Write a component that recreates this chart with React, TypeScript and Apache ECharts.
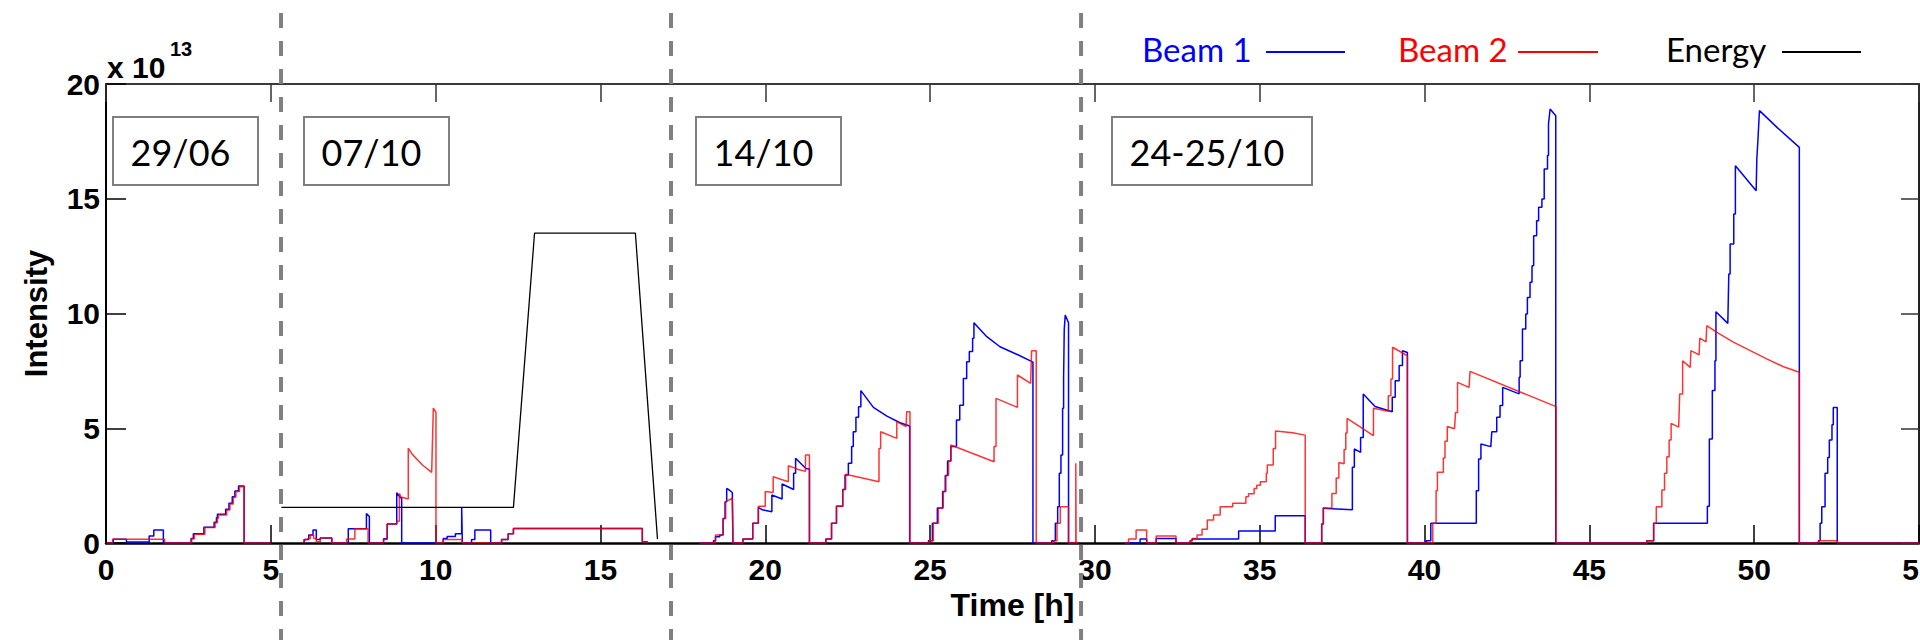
import React, { useEffect, useRef } from "react";
import * as echarts from "echarts";

// ---------- DATA (hours, intensity in units of 1e13) ----------
const xAxisRange = [0, 55, 5]; // min, max, step (hours)
const yAxisRange = [0, 20, 5]; // min, max, step (x 1e13)

const sessionLabels = ["29/06", "07/10", "14/10", "24-25/10"];
const sessionSeparators = [5.31, 17.14, 29.58]; // hours, dashed separators

// Beam 1 (blue)
const beam1Jun29 = [
  [0.02, 0], [0.22, 0], [0.22, 0.16], [0.62, 0.16], [0.62, 0.04], [1.31, 0.04], [1.31, 0.3], [1.45, 0.3],
  [1.45, 0.57], [1.74, 0.57], [1.74, 0], [2.58, 0], [2.58, 0.2], [2.65, 0.2], [2.65, 0.4], [2.97, 0.4],
  [2.97, 0.69], [3.28, 0.69], [3.28, 0.9], [3.35, 0.9], [3.35, 1.1], [3.38, 1.1], [3.38, 1.25], [3.63, 1.25],
  [3.63, 1.47], [3.73, 1.47], [3.73, 1.73], [3.83, 1.73], [3.83, 2.02], [3.91, 2.02], [3.91, 2.27], [4.02, 2.27],
  [4.02, 2.48], [4.19, 2.48], [4.19, 0], [5.0, 0],
];
const beam1Oct07 = [
  [6.0, 0], [6.03, 0.15], [6.15, 0.15], [6.15, 0.35], [6.28, 0.35], [6.28, 0.57], [6.38, 0.57], [6.38, 0.15],
  [6.5, 0.15], [6.5, 0.22], [6.85, 0.22], [6.85, 0], [7.35, 0], [7.35, 0.62], [7.9, 0.62], [7.9, 1.29],
  [7.99, 1.15], [7.99, 0], [8.42, 0], [8.42, 0.18], [8.53, 0.18], [8.53, 0.83], [8.82, 0.83], [8.82, 2.19],
  [8.93, 1.97], [8.97, 1.97], [8.97, 0], [10.23, 0], [10.23, 0.2], [10.35, 0.2], [10.35, 0.28], [10.6, 0.28],
  [10.6, 0.4], [10.79, 0.4], [10.79, 1.55], [10.81, 1.55], [10.81, 0], [11.09, 0], [11.09, 0.15], [11.19, 0.15],
  [11.19, 0.57], [11.67, 0.57], [11.67, 0], [12.0, 0], [12.0, 0.15], [12.2, 0.15], [12.2, 0.4], [12.36, 0.4],
  [12.36, 0.63], [16.27, 0.63], [16.27, 0.05], [16.42, 0.05], [16.42, 0],
];
const beam1Oct14 = [
  [18.0, 0], [18.43, 0], [18.43, 0.1], [18.49, 0.1], [18.49, 0.27], [18.62, 0.27], [18.62, 0.35], [18.72, 0.35],
  [18.72, 1.07], [18.78, 1.07], [18.78, 1.8], [18.83, 1.8], [18.83, 2.38], [18.87, 2.35], [19.0, 2.2], [19.02, 2.2],
  [19.02, 0], [19.32, 0], [19.32, 0.17], [19.62, 0.17], [19.62, 0.86], [19.79, 0.86], [19.79, 1.55], [19.9, 1.45],
  [20.2, 1.36], [20.2, 2.09], [20.51, 1.92], [20.51, 2.57], [20.86, 2.33], [20.86, 3.04], [20.92, 3.04], [20.92, 3.69],
  [21.23, 3.25], [21.34, 3.22], [21.34, 0], [21.84, 0], [21.84, 0.17], [22.01, 0.17], [22.01, 0.86], [22.16, 0.86],
  [22.16, 1.6], [22.35, 1.6], [22.35, 2.33], [22.42, 2.33], [22.42, 2.96], [22.52, 2.96], [22.52, 3.47], [22.62, 3.47],
  [22.62, 4.2], [22.67, 4.2], [22.67, 4.85], [22.75, 4.85], [22.75, 5.48], [22.83, 5.48], [22.83, 5.94], [22.9, 5.94],
  [22.9, 6.64], [23.28, 5.91], [23.69, 5.53], [24.09, 5.24], [24.38, 5.1], [24.38, 0], [24.95, 0], [24.95, 0.1],
  [25.07, 0.1], [25.07, 0.86], [25.22, 0.86], [25.22, 1.53], [25.38, 1.53], [25.38, 2.24], [25.46, 2.24], [25.46, 2.94],
  [25.53, 2.94], [25.53, 3.57], [25.63, 3.57], [25.63, 4.2], [25.8, 4.2], [25.8, 5.36], [25.9, 5.36], [25.9, 6.0],
  [26.01, 6.0], [26.01, 7.17], [26.11, 7.17], [26.11, 7.9], [26.19, 7.9], [26.19, 8.34], [26.29, 8.34], [26.29, 8.92],
  [26.33, 8.92], [26.33, 9.6], [26.72, 8.99], [27.12, 8.55], [27.68, 8.19], [28.12, 7.88], [28.12, 0], [28.69, 0],
  [28.69, 0.1], [28.8, 0.1], [28.8, 0.86], [28.87, 0.86], [28.87, 1.58], [28.92, 1.58], [28.92, 3.04], [28.97, 3.04],
  [28.97, 3.83], [29.02, 3.83], [29.02, 5.87], [29.05, 5.87], [29.05, 7.17], [29.07, 7.17], [29.07, 9.31], [29.1, 9.93],
  [29.2, 9.6], [29.2, 0], [29.5, 0],
];
const beam1Oct24 = [
  [30.9, 0], [31.37, 0], [31.37, 0.17], [31.57, 0.17], [31.57, 0], [31.86, 0], [31.86, 0.2], [32.46, 0.2],
  [32.46, 0], [32.89, 0], [32.89, 0.1], [32.95, 0.1], [32.95, 0.17], [34.36, 0.17], [34.36, 0.52], [35.47, 0.52],
  [35.47, 1.19], [36.38, 1.19], [36.38, 0], [36.88, 0], [36.88, 0.83], [36.93, 0.83], [36.93, 1.52], [37.05, 1.5],
  [37.81, 1.45], [37.81, 3.3], [37.87, 3.3], [37.87, 4.1], [38.06, 3.95], [38.06, 4.6], [38.14, 4.6], [38.14, 6.49],
  [38.5, 5.95], [39.02, 5.72], [39.02, 6.35], [39.11, 6.35], [39.11, 7.07], [39.23, 7.07], [39.23, 7.73], [39.33, 7.73],
  [39.33, 8.38], [39.48, 8.3], [39.48, 0], [40.05, 0], [40.05, 0.1], [40.19, 0.1], [40.19, 0.86], [41.57, 0.86],
  [41.57, 2.28], [41.64, 2.28], [41.64, 3.66], [41.71, 3.66], [41.71, 4.31], [42.01, 4.2], [42.04, 4.85], [42.19, 4.85],
  [42.19, 5.48], [42.29, 5.48], [42.29, 5.99], [42.37, 5.99], [42.37, 6.78], [42.87, 6.5], [42.87, 7.22], [42.9, 7.22],
  [42.9, 7.94], [42.97, 7.94], [42.97, 9.32], [43.07, 9.32], [43.07, 9.98], [43.12, 9.98], [43.12, 10.7], [43.2, 10.7],
  [43.2, 11.36], [43.26, 11.36], [43.26, 12.08], [43.31, 12.08], [43.31, 13.39], [43.4, 13.39], [43.4, 14.04], [43.46, 14.04],
  [43.46, 14.63], [43.56, 14.63], [43.56, 14.99], [43.63, 14.99], [43.63, 16.3], [43.73, 16.3], [43.73, 16.88], [43.76, 16.88],
  [43.76, 18.26], [43.81, 18.91], [43.98, 18.62], [43.98, 0], [46.74, 0], [46.74, 0.1], [46.95, 0.1], [46.95, 0.86],
  [48.58, 0.86], [48.58, 1.6], [48.64, 1.6], [48.64, 4.53], [48.73, 4.53], [48.73, 6.64], [48.81, 6.64], [48.81, 7.94],
  [48.84, 7.94], [48.84, 10.08], [49.2, 9.57], [49.23, 11.72], [49.27, 11.72], [49.27, 13.03], [49.38, 13.03], [49.38, 14.34],
  [49.43, 14.34], [49.43, 16.44], [50.06, 15.35], [50.08, 16.73], [50.11, 17.46], [50.16, 18.84], [50.7, 18.1], [51.37, 17.24],
  [51.37, 0], [51.95, 0], [51.95, 0.1], [52.0, 0.1], [52.0, 0.86], [52.05, 0.86], [52.05, 1.58], [52.15, 1.58],
  [52.15, 3.04], [52.23, 3.04], [52.23, 3.73], [52.28, 3.73], [52.28, 4.49], [52.36, 4.49], [52.36, 5.15], [52.4, 5.15],
  [52.4, 5.9], [52.52, 5.9], [52.52, 0], [55, 0],
];

// Beam 2 (red)
const beam2Jun29 = [
  [0.02, 0], [0.2, 0], [0.2, 0.16], [1.78, 0.16], [1.78, 0], [2.6, 0], [2.6, 0.18], [2.68, 0.18],
  [2.68, 0.38], [3.0, 0.38], [3.0, 0.67], [3.31, 0.67], [3.31, 0.88], [3.38, 0.88], [3.38, 1.07], [3.41, 1.07],
  [3.41, 1.22], [3.66, 1.22], [3.66, 1.44], [3.76, 1.44], [3.76, 1.7], [3.86, 1.7], [3.86, 1.99], [3.94, 1.99],
  [3.94, 2.24], [4.05, 2.24], [4.05, 2.45], [4.19, 2.45], [4.19, 0], [5.0, 0],
];
const beam2Oct07 = [
  [6.0, 0], [6.0, 0.15], [6.12, 0.15], [6.12, 0.2], [6.2, 0.2], [6.2, 0.35], [6.3, 0.35], [6.3, 0.2],
  [6.38, 0.2], [6.38, 0.05], [6.5, 0.05], [6.5, 0.22], [6.85, 0.22], [6.85, 0], [7.3, 0], [7.3, 0.17],
  [7.55, 0.17], [7.55, 0.62], [7.95, 0.62], [7.95, 0], [8.42, 0], [8.42, 0.15], [8.53, 0.15], [8.53, 0.83],
  [8.82, 0.83], [8.82, 0.95], [8.9, 0.95], [8.9, 2.16], [8.95, 2.0], [9.17, 1.92], [9.17, 4.13], [9.3, 3.85],
  [9.6, 3.4], [9.88, 3.08], [9.93, 5.88], [10.01, 5.7], [10.01, 0], [10.23, 0], [10.23, 0.15], [10.8, 0.15],
  [10.8, 0], [12.0, 0], [12.0, 0.15], [12.2, 0.15], [12.2, 0.4], [12.36, 0.4], [12.36, 0.63], [16.27, 0.63],
  [16.27, 0.05], [16.42, 0.05], [16.42, 0],
];
const beam2Oct14 = [
  [18.0, 0], [18.49, 0], [18.49, 0.35], [18.72, 0.35], [18.72, 1.07], [18.8, 1.07], [18.8, 1.8], [19.0, 1.95],
  [19.02, 1.95], [19.02, 0], [19.32, 0], [19.32, 0.17], [19.62, 0.17], [19.62, 0.86], [19.79, 0.86], [19.79, 1.6],
  [20.0, 1.6], [20.0, 2.24], [20.24, 2.2], [20.24, 2.89], [20.7, 2.67], [20.7, 3.37], [21.0, 3.2], [21.22, 3.12],
  [21.22, 3.83], [21.34, 3.83], [21.34, 0], [21.84, 0], [21.84, 0.17], [22.01, 0.17], [22.01, 0.86], [22.16, 0.86],
  [22.16, 1.6], [22.35, 1.6], [22.35, 2.33], [22.44, 2.33], [22.44, 3.0], [23.45, 2.67], [23.45, 4.12], [23.5, 4.12],
  [23.5, 4.85], [23.99, 4.56], [23.99, 5.29], [24.27, 5.07], [24.29, 5.72], [24.39, 5.72], [24.39, 0], [24.98, 0],
  [24.98, 0.1], [25.1, 0.1], [25.1, 0.86], [25.25, 0.86], [25.25, 1.53], [25.4, 1.53], [25.4, 2.24], [25.48, 2.24],
  [25.48, 2.94], [25.56, 2.94], [25.56, 3.57], [25.63, 3.57], [25.63, 4.27], [26.94, 3.54], [26.94, 4.2], [27.0, 4.2],
  [27.0, 6.3], [27.65, 5.91], [27.65, 7.32], [28.05, 6.96], [28.08, 8.38], [28.22, 8.38], [28.22, 0], [28.75, 0],
  [28.75, 0.1], [28.85, 0.1], [28.85, 0.86], [28.95, 0.86], [28.95, 1.58], [29.2, 1.58], [29.2, 0], [29.42, 0],
  [29.42, 3.47], [29.43, 3.47], [29.43, 0], [29.5, 0],
];
const beam2Oct24 = [
  [30.9, 0], [31.02, 0], [31.02, 0.17], [31.25, 0.17], [31.25, 0.57], [31.57, 0.57], [31.57, 0], [31.86, 0],
  [31.86, 0.3], [32.46, 0.3], [32.46, 0], [32.89, 0], [32.89, 0.1], [32.95, 0.1], [32.95, 0.2], [33.1, 0.2],
  [33.1, 0.35], [33.25, 0.35], [33.25, 0.6], [33.41, 0.6], [33.41, 1.0], [33.6, 1.0], [33.6, 1.22], [33.8, 1.22],
  [33.8, 1.58], [34.18, 1.58], [34.18, 1.73], [34.58, 1.73], [34.58, 2.02], [34.66, 2.02], [34.66, 2.15], [34.83, 2.15],
  [34.83, 2.38], [34.91, 2.38], [34.91, 2.52], [35.02, 2.52], [35.02, 2.67], [35.2, 2.67], [35.2, 3.04], [35.23, 3.04],
  [35.23, 3.4], [35.41, 3.4], [35.41, 4.12], [35.48, 4.12], [35.48, 4.88], [36.0, 4.8], [36.38, 4.7], [36.38, 0],
  [36.88, 0], [36.88, 0.83], [36.93, 0.83], [36.93, 1.52], [37.19, 1.52], [37.19, 2.16], [37.32, 2.16], [37.32, 2.83],
  [37.4, 2.83], [37.4, 3.51], [37.56, 3.45], [37.56, 4.07], [37.61, 4.07], [37.61, 4.79], [37.65, 4.79], [37.65, 5.43],
  [38.45, 4.68], [38.45, 5.87], [38.9, 5.74], [38.9, 6.42], [38.98, 6.42], [38.98, 7.15], [39.03, 7.15], [39.03, 8.53],
  [39.48, 8.16], [39.48, 0], [40.25, 0], [40.25, 0.86], [40.35, 0.86], [40.35, 2.28], [40.39, 2.28], [40.39, 3.08],
  [40.57, 3.08], [40.57, 3.7], [40.62, 3.7], [40.62, 4.43], [40.69, 4.43], [40.69, 5.08], [40.91, 4.98], [40.94, 5.69],
  [41.0, 5.69], [41.0, 7.0], [41.35, 6.78], [41.38, 7.48], [43.99, 5.94], [43.99, 0], [46.74, 0], [46.74, 0.1],
  [46.95, 0.1], [46.95, 0.86], [47.03, 0.86], [47.03, 1.58], [47.2, 1.58], [47.2, 2.31], [47.28, 2.31], [47.28, 3.04],
  [47.35, 3.04], [47.35, 3.76], [47.42, 3.76], [47.42, 4.49], [47.48, 4.49], [47.48, 5.21], [47.71, 5.05], [47.74, 6.49],
  [47.83, 6.49], [47.83, 7.94], [48.06, 7.65], [48.08, 8.38], [48.33, 8.2], [48.35, 8.93], [48.54, 8.76], [48.56, 9.47],
  [48.87, 9.18], [49.37, 8.75], [49.88, 8.38], [50.38, 8.02], [50.89, 7.68], [51.37, 7.44], [51.37, 0], [51.95, 0],
  [51.95, 0.1], [52.52, 0.1], [52.52, 0], [55, 0],
];

// Energy (black)
const energyOct07 = [[5.32, 1.55], [12.36, 1.55], [13.0, 13.5], [16.06, 13.5], [16.73, 0.17]];

// ---------- helpers ----------
const GAP = "-";
function joinFills(fills: number[][][]) {
  const out: any[] = [];
  fills.forEach((f, i) => {
    if (i > 0) out.push([(f[0][0] + out[out.length - 1][0]) / 2, GAP]);
    f.forEach((p) => out.push(p));
  });
  return out;
}

const beam1 = joinFills([beam1Jun29, beam1Oct07, beam1Oct14, beam1Oct24]);
const beam2 = joinFills([beam2Jun29, beam2Oct07, beam2Oct14, beam2Oct24]);

const AXIS_FONT = "Liberation Sans";
const NOTE_FONT = "Lato";

export default function App() {
  const ref = useRef<HTMLDivElement>(null);

  useEffect(() => {
    if (!ref.current) return;
    const chart = echarts.init(ref.current, undefined, { renderer: "svg" });

    const labelStyle = {
      color: "#000",
      fontFamily: AXIS_FONT,
      fontWeight: "bold" as const,
      fontSize: 30,
    };

    chart.setOption({
      animation: false,
      grid: {
        left: 106,
        top: 84,
        width: 1813,
        height: 459,
        containLabel: false,
        outerBoundsMode: "none",
      },
      xAxis: [
        {
          type: "value",
          min: xAxisRange[0],
          max: xAxisRange[1],
          interval: xAxisRange[2],
          position: "bottom",
          name: "Time [h]",
          nameLocation: "middle",
          nameGap: 44,
          nameTextStyle: { color: "#000", fontFamily: AXIS_FONT, fontWeight: "bold", fontSize: 32 },
          axisLine: { show: true, onZero: false, lineStyle: { color: "#000", width: 2.5 } },
          axisTick: { show: true, inside: true, length: 18, lineStyle: { color: "#000", width: 1.5 } },
          axisLabel: { ...labelStyle, margin: 11 },
          splitLine: { show: false },
        },
        {
          type: "value",
          min: xAxisRange[0],
          max: xAxisRange[1],
          interval: xAxisRange[2],
          position: "top",
          axisLine: { show: true, onZero: false, lineStyle: { color: "#3a3a3a", width: 2 } },
          axisTick: { show: true, inside: true, length: 18, lineStyle: { color: "#333", width: 1.5 } },
          axisLabel: { show: false },
          splitLine: { show: false },
        },
      ],
      yAxis: [
        {
          type: "value",
          min: yAxisRange[0],
          max: yAxisRange[1],
          interval: yAxisRange[2],
          position: "left",
          name: "Intensity",
          nameLocation: "middle",
          nameGap: 54,
          nameTextStyle: { color: "#000", fontFamily: AXIS_FONT, fontWeight: "bold", fontSize: 31 },
          axisLine: { show: true, onZero: false, lineStyle: { color: "#000", width: 2 } },
          axisTick: { show: true, inside: true, length: 20, lineStyle: { color: "#000", width: 1.5 } },
          axisLabel: { ...labelStyle, margin: 6 },
          splitLine: { show: false },
        },
        {
          type: "value",
          min: yAxisRange[0],
          max: yAxisRange[1],
          interval: yAxisRange[2],
          position: "right",
          axisLine: { show: true, onZero: false, lineStyle: { color: "#222", width: 2 } },
          axisTick: { show: true, inside: true, length: 18, lineStyle: { color: "#333", width: 1.5 } },
          axisLabel: { show: false },
          splitLine: { show: false },
        },
      ],
      series: [
        {
          name: "Beam 1",
          type: "line",
          xAxisIndex: 0,
          yAxisIndex: 0,
          data: beam1,
          symbol: "none",
          connectNulls: false,
          lineStyle: { color: "#0000ff", width: 1.5 },
          itemStyle: { color: "#0000ff" },
          z: 2,
        },
        {
          name: "Beam 2",
          type: "line",
          xAxisIndex: 0,
          yAxisIndex: 0,
          data: beam2,
          symbol: "none",
          connectNulls: false,
          lineStyle: { color: "#ff0000", width: 1.5, opacity: 0.8 },
          itemStyle: { color: "#ff0000" },
          z: 3,
        },
        {
          name: "Energy",
          type: "line",
          xAxisIndex: 0,
          yAxisIndex: 0,
          data: energyOct07,
          symbol: "none",
          lineStyle: { color: "#000", width: 1.3 },
          itemStyle: { color: "#000" },
          z: 4,
        },
      ],
    });

    // separators and annotations (positions from the x scale)
    const sepX = sessionSeparators.map((h) => chart.convertToPixel({ xAxisIndex: 0 }, h) as number);
    const boxes = [
      { x: 113, w: 145 },
      { x: 304, w: 145 },
      { x: 696, w: 145 },
      { x: 1112, w: 200 },
    ];
    const graphic: any[] = [];
    boxes.forEach((b, i) => {
      graphic.push({
        type: "rect",
        z: 10,
        shape: { x: b.x, y: 117, width: b.w, height: 68 },
        style: { fill: "#fff", stroke: "#7f7f7f", lineWidth: 2 },
      });
      graphic.push({
        type: "text",
        z: 11,
        x: b.x + b.w / 2 - 5,
        y: 152,
        style: {
          text: sessionLabels[i],
          font: `36px ${NOTE_FONT}`,
          fill: "#000",
          align: "center",
          verticalAlign: "middle",
        },
      });
    });
    sepX.forEach((x) => {
      graphic.push({
        type: "line",
        z: 20,
        shape: { x1: x, y1: 13, x2: x, y2: 640 },
        style: { stroke: "#808080", lineWidth: 4, lineDash: [15, 13] },
      });
    });
    // exponent note
    graphic.push({
      type: "text",
      z: 11,
      x: 107,
      y: 67,
      style: { text: "x 10", font: `bold 30px ${AXIS_FONT}`, fill: "#000", align: "left", verticalAlign: "middle" },
    });
    graphic.push({
      type: "text",
      z: 11,
      x: 170,
      y: 49,
      style: { text: "13", font: `bold 20px ${AXIS_FONT}`, fill: "#000", align: "left", verticalAlign: "middle" },
    });
    // legend
    const legend = [
      { label: "Beam 1", color: "#0000ff", tx: 1142, lx1: 1266, lx2: 1345 },
      { label: "Beam 2", color: "#ff0000", tx: 1398, lx1: 1518, lx2: 1598 },
      { label: "Energy", color: "#000000", tx: 1666, lx1: 1782, lx2: 1861 },
    ];
    legend.forEach((l) => {
      graphic.push({
        type: "text",
        z: 11,
        x: l.tx,
        y: 49,
        style: { text: l.label, font: `33px ${NOTE_FONT}`, fill: l.color, align: "left", verticalAlign: "middle" },
      });
      graphic.push({
        type: "line",
        z: 11,
        shape: { x1: l.lx1, y1: 52, x2: l.lx2, y2: 52 },
        style: { stroke: l.color, lineWidth: 2 },
      });
    });
    chart.setOption({ graphic });

    return () => chart.dispose();
  }, []);

  return (
    <div
      ref={ref}
      style={{ position: "fixed", left: 0, top: 0, width: 1920, height: 640, background: "#fff" }}
    />
  );
}
